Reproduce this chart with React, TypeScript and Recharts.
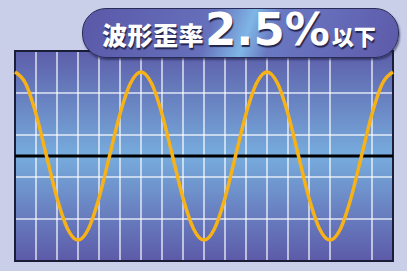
import {
  CartesianGrid,
  LineChart,
  Line,
  ReferenceArea,
  ReferenceLine,
  XAxis,
  YAxis,
} from 'recharts';

// horizontal position in grid columns (18 columns across)
const positions = [
  0, 0.5, 1, 1.5, 2, 2.5, 3, 3.5, 4, 4.5, 5, 5.5,
  6, 6.5, 7, 7.5, 8, 8.5, 9, 9.5, 10, 10.5, 11, 11.5,
  12, 12.5, 13, 13.5, 14, 14.5, 15, 15.5, 16, 16.5, 17, 17.5, 18,
];

// waveform level in grid rows (peak = 4 rows)
const levels = [
  4, 3.46, 2, 0, -2, -3.46, -4, -3.46, -2, 0, 2, 3.46,
  4, 3.46, 2, 0, -2, -3.46, -4, -3.46, -2, 0, 2, 3.46,
  4, 3.46, 2, 0, -2, -3.46, -4, -3.46, -2, 0, 2, 3.46, 4,
];

const xTicks = [0, 1, 2, 3, 4, 5, 6, 7, 8, 9, 10, 11, 12, 13, 14, 15, 16, 17, 18];
const yTicks = [-5, -4, -3, -2, -1, 0, 1, 2, 3, 4, 5];

const title = '波形歪率';
const figure = '2.5%';
const suffix = '以下';

const data = positions.map((x, i) => ({ x, v: levels[i] }));

export default function App() {
  return (
    <div
      style={{
        position: 'absolute',
        left: 0,
        top: 0,
        width: 407,
        height: 271,
        background: '#c9cee9',
        overflow: 'hidden',
      }}
    >
      <LineChart
        width={407}
        height={271}
        data={data}
        margin={{ top: 51, right: 14, bottom: 10, left: 15 }}
      >
        <defs>
          <linearGradient id="screenFill" x1="0" y1="0" x2="0" y2="1">
            <stop offset="0%" stopColor="#5c5ea9" />
            <stop offset="50%" stopColor="#77acdd" />
            <stop offset="100%" stopColor="#5c5aa8" />
          </linearGradient>
        </defs>
        <XAxis
          dataKey="x"
          type="number"
          domain={[0, 18]}
          ticks={xTicks}
          hide
        />
        <YAxis type="number" domain={[-5, 5]} ticks={yTicks} hide />
        <CartesianGrid
          fill="url(#screenFill)"
          fillOpacity={1}
          stroke="#ffffff"
          strokeOpacity={0.8}
          strokeWidth={1.5}
        />
        <ReferenceLine y={0} stroke="#000000" strokeWidth={3} />
        <ReferenceArea
          x1={0}
          x2={18}
          y1={-5}
          y2={5}
          fill="none"
          fillOpacity={0}
          stroke="#1a1c38"
          strokeWidth={2}
          ifOverflow="visible"
        />
        <Line
          type="monotone"
          dataKey="v"
          stroke="#f6b216"
          strokeWidth={3.5}
          dot={false}
          isAnimationActive={false}
        />
      </LineChart>

      <div
        style={{
          position: 'absolute',
          left: 82,
          top: 8,
          width: 315,
          height: 48,
          borderRadius: 24,
          border: '1.5px solid #2a2c58',
          boxShadow: '1px 2px 2px rgba(30,30,70,0.6)',
          background:
            'linear-gradient(110deg, #5a58a8 0%, #6670bb 40%, #7fb6e6 52%, #6a78c2 60%, #5d5aaa 100%)',
        }}
      />
      <div
        style={{
          position: 'absolute',
          left: 102,
          top: 6,
          height: 48,
          display: 'flex',
          alignItems: 'baseline',
          color: '#ffffff',
          fontFamily: '"Noto Sans CJK JP", sans-serif',
          fontWeight: 900,
          textShadow: '1px 2px 1px #23244a',
          whiteSpace: 'nowrap',
        }}
      >
        <span style={{ fontSize: 25, lineHeight: '48px', letterSpacing: 0.5 }}>
          {title}
        </span>
        <span
          style={{
            fontFamily: '"DejaVu Sans", sans-serif',
            fontWeight: 700,
            fontSize: 45,
            lineHeight: '48px',
            letterSpacing: 0,
            marginLeft: 1,
          }}
        >
          {figure}
        </span>
        <span style={{ fontSize: 22, lineHeight: '48px', marginLeft: 2 }}>
          {suffix}
        </span>
      </div>
    </div>
  );
}
